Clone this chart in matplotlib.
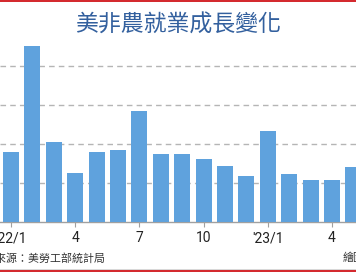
import matplotlib
matplotlib.use('Agg')
import matplotlib.pyplot as plt
from matplotlib.patches import Rectangle

# 美國非農就業新增人數（千人），2022/1 ~ 2023/5
months = ["'22/1", "2", "3", "4", "5", "6", "7", "8", "9", "10", "11", "12",
          "'23/1", "2", "3", "4", "5"]
values = [360, 904, 410, 252, 360, 369, 568, 350, 350, 324, 287, 236,
          467, 246, 215, 215, 282]
tick_pos = [0, 3, 6, 9, 12, 15]
tick_labels = ["'22/1", "4", "7", "10", "'23/1", "4"]

plt.rcParams['font.family'] = ['Noto Sans CJK TC', 'DejaVu Sans']

W, H = 356, 272
fig = plt.figure(figsize=(W / 100, H / 100), dpi=100)
fig.patch.set_facecolor('white')

ax = fig.add_axes([0, 50 / H, 1, 187 / H])
x = list(range(len(values)))
ax.bar(x, values, width=0.75, color='#5fa2dd', zorder=3)

# bar 0 centered at px 11, spacing 21.4 px
ax.set_xlim(-11 / 21.4, (W - 11) / 21.4)
ax.set_ylim(0, 960)

ax.set_yticks([200, 400, 600, 800])
ax.yaxis.grid(True, linestyle=(0, (4, 3)), color='#b5b5b5', linewidth=1, zorder=0)
ax.tick_params(axis='y', length=0, labelleft=False)

ax.set_xticks(tick_pos)
ax.set_xticklabels(tick_labels, fontfamily='Roboto', fontsize=10, color='#222222')
ax.tick_params(axis='x', length=3.5, color='#a0a0a0', pad=3)

for s in ['top', 'right', 'left']:
    ax.spines[s].set_visible(False)
ax.spines['bottom'].set_color('#a0a0a0')
ax.spines['bottom'].set_linewidth(1)

fig.text(178 / W, (H - 25) / H, '美非農就業成長變化', ha='center', va='center',
         fontsize=16.5, color='#33609e')
fig.text(105 / W, 14 / H, '資料來源：美勞工部統計局', ha='right', va='center',
         fontsize=7.9, color='#333333')
fig.text(343 / W, 14 / H, '繪圖', ha='left', va='center',
         fontsize=7.9, color='#333333')

# red frame lines at top and bottom
fig.add_artist(Rectangle((0, 1 - 2 / H), 1, 2 / H, transform=fig.transFigure,
                         color='#d42a2f', lw=0))
fig.add_artist(Rectangle((0, 0), 1, 2 / H, transform=fig.transFigure,
                         color='#d42a2f', lw=0))
fig.add_artist(Rectangle((0, 2 / H), 1, 1.5 / H, transform=fig.transFigure,
                         color='#d8d8d8', lw=0))

fig.savefig('out.png', dpi=100)
